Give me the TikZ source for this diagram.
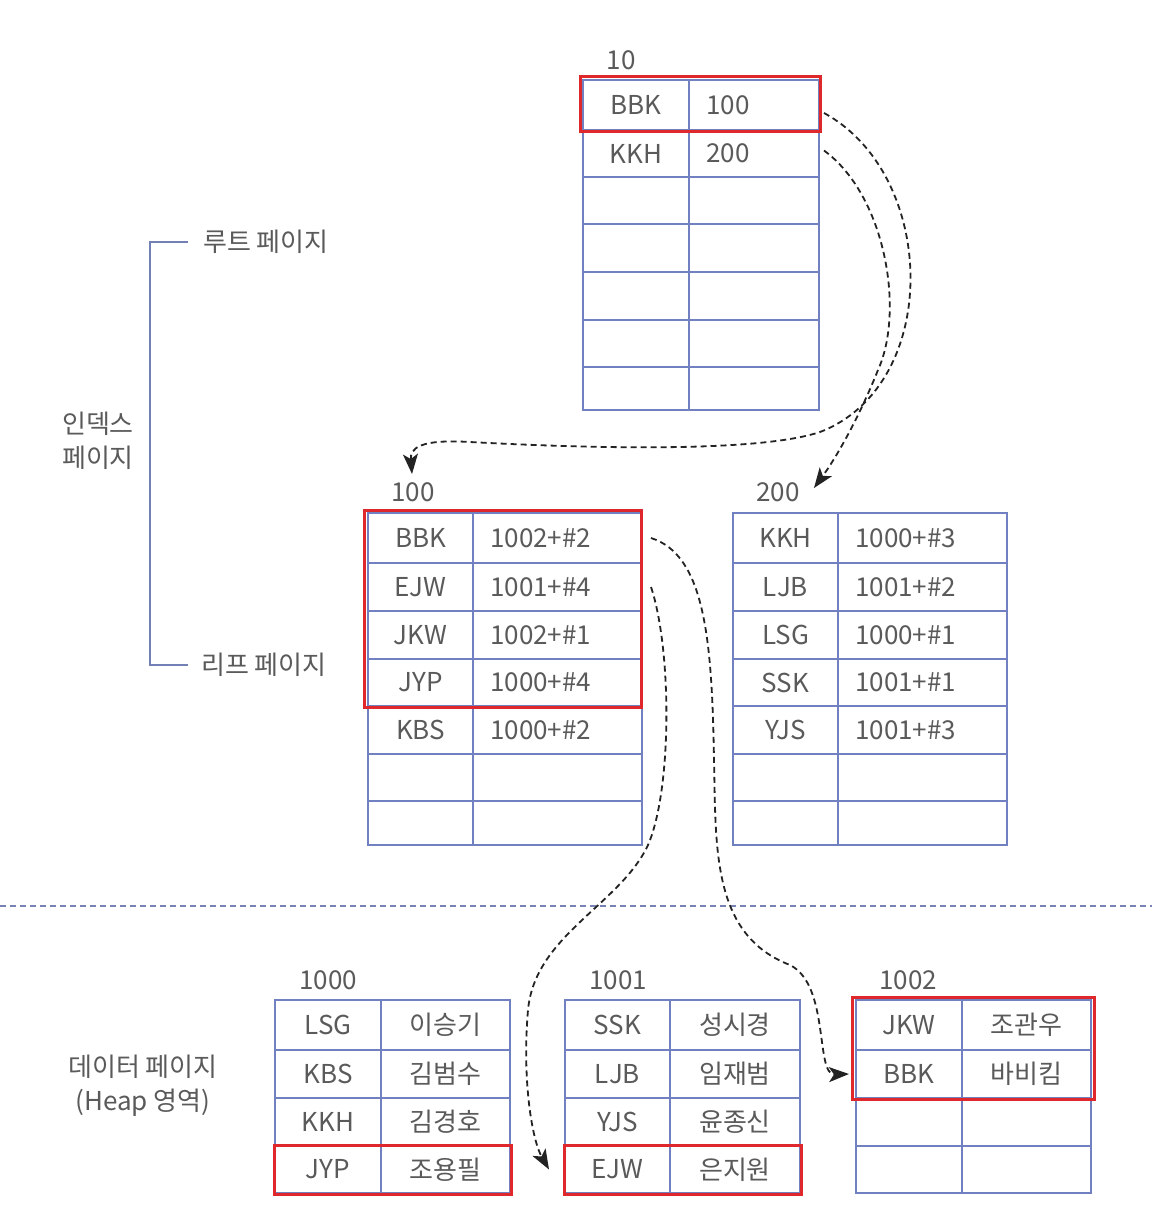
\documentclass[tikz,border=0pt]{standalone}
\usepackage{fontspec}
\setmainfont{Noto Sans CJK KR}
\usetikzlibrary{arrows.meta,calc}
\definecolor{tblue}{RGB}{112,128,192}
\definecolor{tred}{RGB}{222,40,44}
\definecolor{tgray}{RGB}{90,90,90}
\definecolor{tdark}{RGB}{35,35,35}
\definecolor{tline}{RGB}{120,130,180}
% name, xL, xM, xR, yTop, yBot, left text, right text, mode (1 = right text left-aligned)
\newcommand\trow[9]{%
  \node[tcell, minimum width={#3-#2}, minimum height={#6-#5}] (#1L) at ({(#2+#3)/2},{(#5+#6)/2}) {#7};
  \node[tcell, minimum width={#4-#3}, minimum height={#6-#5}] (#1R) at ({(#3+#4)/2},{(#5+#6)/2}) {\ifnum#9=1 \else #8\fi};
  \ifnum#9=1 \node[txt, anchor=west] (#1T) at ([xshift=18pt]#1R.west) {#8};\fi
}
\begin{document}
\begin{tikzpicture}[x=1pt,y=-1pt,
  tcell/.style={draw=tblue, line width=2pt, inner sep=0pt, font=\fontsize{26}{30}\selectfont, text=tgray},
  txt/.style={inner sep=0pt, font=\fontsize{26}{34}\selectfont, text=tgray},
  redbox/.style={draw=tred, line width=3pt},
  conn/.style={draw=tdark, line width=1.8pt, dash pattern=on 6pt off 4pt, -{Stealth[length=20pt,width=15pt,inset=5pt]}},
  sepline/.style={draw=tline, line width=2pt, dash pattern=on 6pt off 4pt},
  brk/.style={draw=tblue!85!gray, line width=1.5pt}]
\useasboundingbox (0,0) rectangle (1152,1210);
\fill[white] (0,0) rectangle (1152,1210);

% separator line
\draw[sepline] (0,906) -- (1152,906);

% page number labels
\node[txt] (n10) at (621,60) {10};
\node[txt] (n100) at (413,492) {100};
\node[txt] (n200) at (778,492) {200};
\node[txt] (n1000) at (328,980) {1000};
\node[txt] (n1001) at (618,980) {1001};
\node[txt] (n1002) at (908,980) {1002};

% left labels
\node[txt, anchor=west] (lroot) at (203,242) {루트 페이지};
\node[txt, anchor=west] (lleaf) at (201,665) {리프 페이지};
\node[txt, align=center] (lidx) at (98,441) {인덱스\\페이지};
\node[txt, align=center] (ldata) at (143,1086) {데이터 페이지\\(Heap 영역)};
\draw[brk] ([xshift=-15pt]lroot.west) -- ++(-38,0) |- ([xshift=-13pt]lleaf.west);

% root page 10
\trow{rtA}{583}{689}{819}{80}{130}{BBK}{100}{1}
\trow{rtB}{583}{689}{819}{130}{177}{KKH}{200}{1}
\trow{rtC}{583}{689}{819}{177}{224}{}{}{1}
\trow{rtD}{583}{689}{819}{224}{272}{}{}{1}
\trow{rtE}{583}{689}{819}{272}{320}{}{}{1}
\trow{rtF}{583}{689}{819}{320}{367}{}{}{1}
\trow{rtG}{583}{689}{819}{367}{410}{}{}{1}

% leaf page 100
\trow{laA}{368}{473}{642}{513}{563}{BBK}{1002+\#2}{1}
\trow{laB}{368}{473}{642}{563}{611}{EJW}{1001+\#4}{1}
\trow{laC}{368}{473}{642}{611}{659}{JKW}{1002+\#1}{1}
\trow{laD}{368}{473}{642}{659}{706}{JYP}{1000+\#4}{1}
\trow{laE}{368}{473}{642}{706}{754}{KBS}{1000+\#2}{1}
\trow{laF}{368}{473}{642}{754}{801}{}{}{1}
\trow{laG}{368}{473}{642}{801}{845}{}{}{1}

% leaf page 200
\trow{lbA}{733}{838}{1007}{513}{563}{KKH}{1000+\#3}{1}
\trow{lbB}{733}{838}{1007}{563}{611}{LJB}{1001+\#2}{1}
\trow{lbC}{733}{838}{1007}{611}{659}{LSG}{1000+\#1}{1}
\trow{lbD}{733}{838}{1007}{659}{706}{SSK}{1001+\#1}{1}
\trow{lbE}{733}{838}{1007}{706}{754}{YJS}{1001+\#3}{1}
\trow{lbF}{733}{838}{1007}{754}{801}{}{}{1}
\trow{lbG}{733}{838}{1007}{801}{845}{}{}{1}

% data page 1000
\trow{daA}{275}{381}{510}{1000}{1050}{LSG}{이승기}{0}
\trow{daB}{275}{381}{510}{1050}{1098}{KBS}{김범수}{0}
\trow{daC}{275}{381}{510}{1098}{1146}{KKH}{김경호}{0}
\trow{daD}{275}{381}{510}{1146}{1193}{JYP}{조용필}{0}

% data page 1001
\trow{dbA}{565}{670}{800}{1000}{1050}{SSK}{성시경}{0}
\trow{dbB}{565}{670}{800}{1050}{1098}{LJB}{임재범}{0}
\trow{dbC}{565}{670}{800}{1098}{1146}{YJS}{윤종신}{0}
\trow{dbD}{565}{670}{800}{1146}{1193}{EJW}{은지원}{0}

% data page 1002
\trow{dcA}{856}{962}{1091}{1000}{1050}{JKW}{조관우}{0}
\trow{dcB}{856}{962}{1091}{1050}{1098}{BBK}{바비킴}{0}
\trow{dcC}{856}{962}{1091}{1098}{1146}{}{}{0}
\trow{dcD}{856}{962}{1091}{1146}{1193}{}{}{0}

% red highlight boxes
\draw[redbox] ([shift={(-2,-3)}]rtAL.north west) rectangle (rtAR.south east);
\draw[redbox] ([shift={(-3,-2)}]laAL.north west) rectangle ([xshift=-2pt]laDR.south east);
\draw[redbox] (daDL.north west) rectangle (daDR.south east);
\draw[redbox] (dbDL.north west) rectangle (dbDR.south east);
\draw[redbox] ([shift={(-3,-2)}]dcAL.north west) rectangle ([xshift=2pt]dcBR.south east);

% connectors
\coordinate (tipA) at (412,474);
\coordinate (tipB) at (814,488);
\draw[conn] ([shift={(4,8)}]rtAR.east) .. controls (938,175) and (942,385) .. (820,432)
   .. controls (760,452) and (600,449) .. (470,442)
   .. controls (420,439) and (410,448) .. (tipA);
\draw[conn] ([shift={(4,-3)}]rtBR.east) .. controls (885,195) and (905,310) .. (878,370)
   .. controls (860,415) and (838,455) .. (tipB);
\draw[conn] ([xshift=8pt]laAR.east) .. controls (705,555) and (712,640) .. (714,760)
   .. controls (716,850) and (712,935) .. (790,965)
   .. controls (830,985) and (815,1075) .. ([xshift=-6pt]dcBL.west);
\draw[conn] ([xshift=8pt]laBR.east) .. controls (672,650) and (672,790) .. (648,845)
   .. controls (620,905) and (535,935) .. (528,1010)
   .. controls (522,1080) and (532,1140) .. ([xshift=-15pt]dbDL.west);
\end{tikzpicture}
\end{document}
